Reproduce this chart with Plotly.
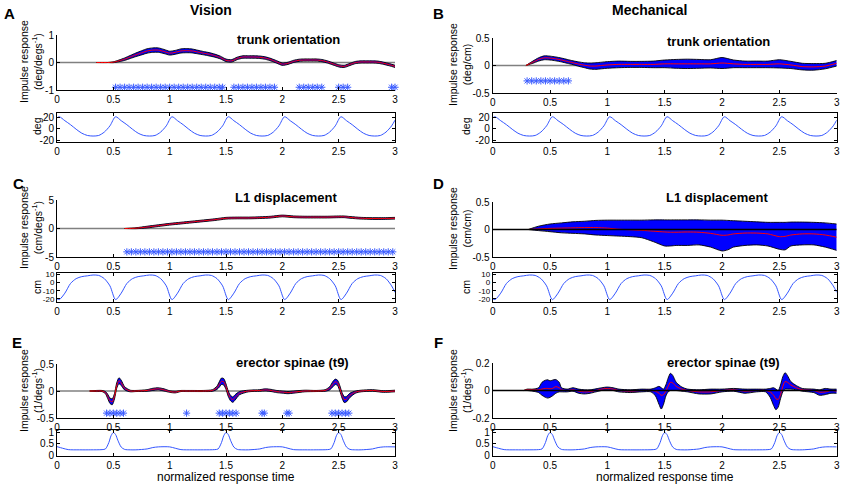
import plotly.graph_objects as go

W, H = 843, 486
FONT = "Liberation Sans, Arial, sans-serif"
BAND = "#0000ff"
STAR = "#3b5cff"
WAVE = "#3355ff"

# ---------------- data ----------------
XT = [0, 0.5, 1, 1.5, 2, 2.5, 3]

# Panel A : Vision, trunk orientation
A_t = [0.35, 0.45, 0.5, 0.55, 0.6, 0.65, 0.7, 0.75, 0.8, 0.85, 0.9, 0.95, 1.0, 1.05, 1.1, 1.15, 1.2, 1.25,
       1.3, 1.35, 1.4, 1.45, 1.5, 1.55, 1.6, 1.65, 1.7, 1.75, 1.8, 1.85, 1.9, 1.95, 2.0, 2.05, 2.1, 2.15,
       2.2, 2.25, 2.3, 2.35, 2.4, 2.45, 2.5, 2.55, 2.6, 2.65, 2.7, 2.75, 2.8, 2.85, 2.9, 2.95, 3.0]
A_mean = [0, 0, 0.01, 0.06, 0.12, 0.2, 0.28, 0.35, 0.42, 0.45, 0.45, 0.4, 0.34, 0.37, 0.42, 0.43, 0.42, 0.38,
          0.34, 0.3, 0.25, 0.18, 0.08, 0.06, 0.15, 0.2, 0.2, 0.2, 0.19, 0.16, 0.1, 0.02, -0.06, -0.03, 0.04, 0.08,
          0.09, 0.09, 0.09, 0.07, 0.02, -0.05, -0.12, -0.14, -0.07, 0.0, 0.02, 0.02, 0.02, 0.01, -0.03, -0.08, -0.14]
A_hw = [0, 0, 0.015, 0.03, 0.045, 0.055, 0.065, 0.075, 0.08, 0.08, 0.08, 0.075, 0.07, 0.07, 0.075, 0.075, 0.07, 0.065,
        0.06, 0.06, 0.055, 0.05, 0.045, 0.045, 0.045, 0.045, 0.045, 0.045, 0.045, 0.045, 0.045, 0.045, 0.045, 0.04, 0.04,
        0.04, 0.04, 0.04, 0.04, 0.04, 0.04, 0.04, 0.04, 0.04, 0.04, 0.04, 0.04, 0.04, 0.04, 0.04, 0.04, 0.04, 0.04]
A_star_t = [0.52, 0.56, 0.60, 0.64, 0.68, 0.72, 0.76, 0.80, 0.84, 0.88, 0.92, 0.96, 1.00, 1.04, 1.08, 1.12, 1.16,
            1.20, 1.24, 1.28, 1.32, 1.36, 1.40, 1.44, 1.47, 1.57, 1.61, 1.65, 1.69, 1.73, 1.77, 1.81, 1.85, 1.89,
            1.93, 2.15, 2.19, 2.23, 2.27, 2.31, 2.35, 2.50, 2.54, 2.58, 2.97, 3.0]
A_star_y = -0.9

# Panel B : Mechanical, trunk orientation
B_t = [0.29, 0.35, 0.4, 0.45, 0.5, 0.55, 0.6, 0.65, 0.7, 0.75, 0.8, 0.85, 0.9, 0.95, 1.0, 1.1, 1.2, 1.3, 1.4,
       1.5, 1.6, 1.7, 1.8, 1.9, 2.0, 2.1, 2.2, 2.3, 2.4, 2.5, 2.6, 2.7, 2.8, 2.9, 3.0]
B_mean = [0, 0.06, 0.11, 0.14, 0.135, 0.12, 0.1, 0.075, 0.05, 0.025, 0.005, -0.01, -0.01, 0.0, 0.01, 0.02, 0.02,
          0.02, 0.02, 0.03, 0.03, 0.03, 0.03, 0.03, 0.045, 0.03, 0.02, 0.02, 0.02, 0.03, 0.01, -0.02, -0.025, -0.01, 0.04]
B_hw = [0, 0.02, 0.03, 0.035, 0.035, 0.035, 0.035, 0.035, 0.035, 0.04, 0.045, 0.055, 0.06, 0.06, 0.06, 0.06, 0.055,
        0.055, 0.06, 0.07, 0.08, 0.085, 0.08, 0.075, 0.1, 0.07, 0.06, 0.06, 0.06, 0.075, 0.065, 0.06, 0.06, 0.05, 0.05]
B_star_t = [0.30, 0.34, 0.38, 0.42, 0.46, 0.50, 0.54, 0.58, 0.62, 0.66]
B_star_y = -0.28

# Panel C : Vision, L1 displacement
C_t = [0.6, 0.7, 0.8, 0.9, 1.0, 1.1, 1.2, 1.3, 1.4, 1.5, 1.6, 1.7, 1.8, 1.9, 2.0, 2.1, 2.2, 2.3, 2.4, 2.5,
       2.55, 2.6, 2.7, 2.8, 2.9, 3.0]
C_mean = [0, 0.05, 0.25, 0.5, 0.75, 0.95, 1.15, 1.35, 1.55, 1.8, 1.85, 1.85, 1.9, 2.0, 2.2, 2.05, 2.0, 2.0, 2.0,
          2.05, 2.05, 1.95, 1.8, 1.75, 1.75, 1.8]
C_hw = [0, 0.08, 0.15, 0.15, 0.15, 0.15, 0.15, 0.15, 0.15, 0.15, 0.15, 0.15, 0.15, 0.15, 0.15, 0.15, 0.15, 0.15,
        0.15, 0.15, 0.15, 0.15, 0.15, 0.15, 0.15, 0.15]
C_star_t = [0.62, 0.66, 0.70, 0.74, 0.78, 0.82, 0.86, 0.90, 0.94, 0.98, 1.02, 1.06, 1.10, 1.14, 1.18, 1.22, 1.26,
            1.30, 1.34, 1.38, 1.42, 1.46, 1.50, 1.54, 1.58, 1.62, 1.66, 1.70, 1.74, 1.78, 1.82, 1.86, 1.90, 1.94,
            1.98, 2.02, 2.06, 2.10, 2.14, 2.18, 2.22, 2.26, 2.30, 2.34, 2.38, 2.42, 2.46, 2.50, 2.54, 2.58, 2.62,
            2.66, 2.70, 2.74, 2.78, 2.82, 2.86, 2.90, 2.94, 2.98]
C_star_y = -4.1

# Panel D : Mechanical, L1 displacement
D_t = [0.31, 0.4, 0.5, 0.6, 0.7, 0.8, 0.9, 1.0, 1.1, 1.2, 1.3, 1.4, 1.5, 1.55, 1.6, 1.7, 1.8, 1.9, 2.0, 2.05,
       2.1, 2.2, 2.3, 2.4, 2.5, 2.55, 2.6, 2.7, 2.8, 2.9, 3.0]
D_mean = [0, 0.01, 0.02, 0.025, 0.03, 0.035, 0.035, 0.025, 0.005, -0.005, -0.015, -0.03, -0.045, -0.05, -0.05,
          -0.045, -0.05, -0.07, -0.105, -0.1, -0.08, -0.065, -0.065, -0.08, -0.13, -0.125, -0.1, -0.08, -0.08, -0.1, -0.14]
D_hi = [0.0, 0.06, 0.1, 0.12, 0.14, 0.15, 0.165, 0.17, 0.17, 0.17, 0.17, 0.175, 0.175, 0.175, 0.175, 0.175, 0.175,
        0.17, 0.17, 0.165, 0.16, 0.15, 0.14, 0.13, 0.13, 0.13, 0.135, 0.135, 0.13, 0.12, 0.1]
D_lo = [0, -0.02, -0.04, -0.06, -0.07, -0.08, -0.1, -0.11, -0.12, -0.13, -0.15, -0.22, -0.3, -0.3, -0.29, -0.29,
        -0.28, -0.32, -0.39, -0.37, -0.32, -0.29, -0.28, -0.3, -0.36, -0.37, -0.3, -0.28, -0.28, -0.32, -0.38]

# Panel E : Vision, erector spinae (t9)
E_t = [0.29, 0.35, 0.4, 0.43, 0.45, 0.47, 0.49, 0.51, 0.53, 0.55, 0.57, 0.6, 0.65, 0.7, 0.8, 0.85, 0.9, 0.95,
       1.0, 1.05, 1.1, 1.15, 1.2, 1.3, 1.38, 1.42, 1.44, 1.46, 1.48, 1.5, 1.52, 1.54, 1.56, 1.58, 1.62, 1.7,
       1.8, 1.85, 1.9, 1.95, 2.0, 2.05, 2.1, 2.2, 2.3, 2.38, 2.42, 2.45, 2.47, 2.49, 2.51, 2.53, 2.55, 2.57,
       2.6, 2.65, 2.7, 2.8, 2.9, 3.0]
E_mean = [0, 0, 0, -0.03, -0.1, -0.18, -0.2, -0.1, 0.1, 0.19, 0.15, 0.05, 0.0, 0.0, 0.01, 0.03, 0.04, 0.02,
          -0.01, -0.02, 0, 0, 0, 0, 0.01, 0.06, 0.12, 0.18, 0.17, 0.08, -0.05, -0.13, -0.16, -0.12, -0.04, 0,
          0.01, 0.02, 0.01, -0.01, -0.02, -0.03, -0.02, 0, 0, 0.01, 0.05, 0.13, 0.17, 0.15, 0.05, -0.08, -0.16,
          -0.15, -0.08, -0.02, 0, 0.01, -0.01, 0.0]
E_hw = [0, 0.01, 0.01, 0.02, 0.04, 0.05, 0.055, 0.05, 0.05, 0.055, 0.05, 0.03, 0.015, 0.01, 0.015, 0.02, 0.02,
        0.02, 0.015, 0.015, 0.01, 0.01, 0.01, 0.01, 0.015, 0.03, 0.05, 0.06, 0.06, 0.05, 0.05, 0.05, 0.05, 0.05,
        0.03, 0.015, 0.015, 0.02, 0.02, 0.02, 0.02, 0.02, 0.02, 0.015, 0.01, 0.015, 0.03, 0.05, 0.05, 0.05, 0.05,
        0.05, 0.055, 0.05, 0.04, 0.02, 0.015, 0.015, 0.015, 0.015]
E_star_t = [0.44, 0.47, 0.50, 0.53, 0.56, 0.59, 1.15, 1.44, 1.47, 1.50, 1.53, 1.56, 1.59, 1.82, 1.84, 2.04,
            2.06, 2.44, 2.47, 2.50, 2.53, 2.56, 2.59]
E_star_y = -0.41

# Panel F : Mechanical, erector spinae (t9)
F_t = [0.27, 0.3, 0.35, 0.4, 0.43, 0.46, 0.48, 0.5, 0.52, 0.55, 0.58, 0.6, 0.65, 0.7, 0.75, 0.8, 0.85, 0.9,
       0.95, 1.0, 1.05, 1.1, 1.2, 1.3, 1.38, 1.42, 1.45, 1.47, 1.49, 1.51, 1.53, 1.55, 1.57, 1.6, 1.65, 1.7,
       1.8, 1.9, 2.0, 2.1, 2.2, 2.3, 2.38, 2.42, 2.45, 2.47, 2.49, 2.51, 2.53, 2.55, 2.57, 2.6, 2.65, 2.7,
       2.8, 2.85, 2.9, 2.95, 3.0]
F_mean = [0, 0.005, 0.005, 0.005, 0.01, 0.015, 0.015, 0.012, 0.015, 0.028, 0.02, 0.005, 0.0, 0.005, -0.005,
          -0.01, -0.008, 0.0, 0.01, 0.015, 0.01, 0.0, -0.005, 0.0, 0.0, -0.005, -0.02, -0.035, -0.03, -0.005,
          0.03, 0.06, 0.055, 0.03, 0.01, 0.0, -0.01, -0.01, 0.0, 0.005, -0.005, 0.0, 0.0, -0.01, -0.035, -0.06,
          -0.065, -0.03, 0.03, 0.065, 0.06, 0.04, 0.02, 0.005, 0.0, -0.012, -0.01, 0.0, -0.005]
F_hi = [0.0, 0.01, 0.01, 0.02, 0.06, 0.075, 0.078, 0.07, 0.075, 0.08, 0.06, 0.02, 0.01, 0.02, 0.01, 0.005, 0.005,
        0.012, 0.02, 0.025, 0.02, 0.01, 0.005, 0.01, 0.01, 0.02, 0.03, 0.02, 0.01, 0.04, 0.09, 0.125, 0.11, 0.06,
        0.025, 0.01, 0.005, 0.01, 0.01, 0.015, 0.01, 0.01, 0.01, 0.015, 0.02, 0.01, 0.0, 0.04, 0.1, 0.13, 0.11,
        0.065, 0.035, 0.015, 0.01, 0.005, 0.015, 0.01, 0.01]
F_lo = [0.0, 0.0, -0.005, -0.015, -0.035, -0.05, -0.055, -0.05, -0.04, -0.02, -0.01, -0.01, -0.01, -0.005, -0.02,
        -0.025, -0.02, -0.01, 0.0, 0.005, 0.0, -0.01, -0.015, -0.01, -0.01, -0.04, -0.1, -0.135, -0.1, -0.04,
        -0.01, 0.0, 0.0, 0.0, -0.005, -0.01, -0.025, -0.025, -0.01, -0.005, -0.02, -0.01, -0.01, -0.05, -0.11,
        -0.14, -0.12, -0.06, -0.01, 0.01, 0.01, 0.01, 0.005, -0.005, -0.015, -0.035, -0.03, -0.02, -0.02]

# Stimulus waveforms (bottom strips)
W1_t = [0, 0.02, 0.07, 0.12, 0.17, 0.22, 0.27, 0.32, 0.37, 0.42, 0.47, 0.52, 0.57, 0.62, 0.67, 0.72, 0.77,
        0.82, 0.87, 0.92, 0.97, 1.02, 1.07, 1.12, 1.17, 1.22, 1.27, 1.32, 1.37, 1.42, 1.47, 1.52, 1.57, 1.62,
        1.67, 1.72, 1.77, 1.82, 1.87, 1.92, 1.97, 2.02, 2.07, 2.12, 2.17, 2.22, 2.27, 2.32, 2.37, 2.42, 2.47,
        2.52, 2.57, 2.62, 2.67, 2.72, 2.77, 2.82, 2.87, 2.92, 2.97, 3.0]
deg_wave = [19,
            21, 14, 7, -1, -8, -12, -13, -12, -6, 5,
            21, 14, 7, -1, -8, -12, -13, -12, -6, 5,
            21, 14, 7, -1, -8, -12, -13, -12, -6, 5,
            21, 14, 7, -1, -8, -12, -13, -12, -6, 5,
            21, 14, 7, -1, -8, -12, -13, -12, -6, 5,
            21, 14, 7, -1, -8, -12, -13, -12, -6, 5,
            15]
cm_wave = [-20,
           -21, -13, -1, 5, 7.5, 8.5, 9.5, 9, 5, -4,
           -21, -13, -1, 5, 7.5, 8.5, 9.5, 9, 5, -4,
           -21, -13, -1, 5, 7.5, 8.5, 9.5, 9, 5, -4,
           -21, -13, -1, 5, 7.5, 8.5, 9.5, 9, 5, -4,
           -21, -13, -1, 5, 7.5, 8.5, 9.5, 9, 5, -4,
           -21, -13, -1, 5, 7.5, 8.5, 9.5, 9, 5, -4,
           -12]
W3_t = [0, 0.05, 0.1, 0.2, 0.3, 0.4, 0.43, 0.46, 0.48, 0.5,
        0.52, 0.54, 0.57, 0.6, 0.65, 0.7, 0.8, 0.85, 0.9, 1.0,
        1.05, 1.1, 1.2, 1.3, 1.4, 1.43, 1.46, 1.48, 1.5,
        1.52, 1.54, 1.57, 1.6, 1.65, 1.7, 1.8, 1.85, 1.9, 2.0,
        2.05, 2.1, 2.2, 2.3, 2.4, 2.43, 2.46, 2.48, 2.5,
        2.52, 2.54, 2.57, 2.6, 2.65, 2.7, 2.8, 2.85, 2.9, 3.0]
emg_wave = [0.37, 0.3, 0.24, 0.23, 0.23, 0.24, 0.27, 0.55, 0.85, 0.99,
            0.9, 0.65, 0.35, 0.25, 0.23, 0.23, 0.27, 0.33, 0.36, 0.36,
            0.3, 0.24, 0.23, 0.23, 0.24, 0.27, 0.55, 0.85, 0.99,
            0.9, 0.65, 0.35, 0.25, 0.23, 0.23, 0.27, 0.33, 0.36, 0.36,
            0.3, 0.24, 0.23, 0.23, 0.24, 0.27, 0.55, 0.85, 0.99,
            0.9, 0.65, 0.35, 0.25, 0.23, 0.23, 0.27, 0.33, 0.36, 0.36]

# ---------------- figure ----------------
fig = go.Figure()


def ax_names(n):
    return ("x" if n == 1 else f"x{n}"), ("y" if n == 1 else f"y{n}")


def add_band(n, t, lo, hi, mean):
    xa, ya = ax_names(n)
    edge = dict(color="black", width=0.9, shape="spline", smoothing=0.7)
    fig.add_trace(go.Scatter(x=t, y=lo, mode="lines", line=edge, xaxis=xa, yaxis=ya,
                             showlegend=False, hoverinfo="skip"))
    fig.add_trace(go.Scatter(x=t, y=hi, mode="lines", line=edge, fill="tonexty", fillcolor=BAND,
                             xaxis=xa, yaxis=ya, showlegend=False, hoverinfo="skip"))
    fig.add_trace(go.Scatter(x=t, y=mean, mode="lines",
                             line=dict(color="red", width=1, shape="spline", smoothing=0.7),
                             xaxis=xa, yaxis=ya, showlegend=False, hoverinfo="skip"))


def add_stars(n, ts, yv):
    xa, ya = ax_names(n)
    fig.add_trace(go.Scatter(x=ts, y=[yv] * len(ts), mode="markers",
                             marker=dict(symbol="asterisk-open", size=6, color=STAR,
                                         line=dict(color=STAR, width=1)),
                             xaxis=xa, yaxis=ya, showlegend=False, hoverinfo="skip", cliponaxis=False))


def add_wave(n, t, v):
    xa, ya = ax_names(n)
    fig.add_trace(go.Scatter(x=t, y=v, mode="lines",
                             line=dict(color=WAVE, width=1, shape="spline", smoothing=0.8),
                             xaxis=xa, yaxis=ya, showlegend=False, hoverinfo="skip"))


add_band(1, A_t, [m - h for m, h in zip(A_mean, A_hw)], [m + h for m, h in zip(A_mean, A_hw)], A_mean)
add_stars(1, A_star_t, A_star_y)
add_wave(2, W1_t, deg_wave)
add_band(3, B_t, [m - h for m, h in zip(B_mean, B_hw)], [m + h for m, h in zip(B_mean, B_hw)], B_mean)
add_stars(3, B_star_t, B_star_y)
add_wave(4, W1_t, deg_wave)
add_band(5, C_t, [m - h for m, h in zip(C_mean, C_hw)], [m + h for m, h in zip(C_mean, C_hw)], C_mean)
add_stars(5, C_star_t, C_star_y)
add_wave(6, W1_t, cm_wave)
add_band(7, D_t, D_lo, D_hi, D_mean)
add_wave(8, W1_t, cm_wave)
add_band(9, E_t, [m - h for m, h in zip(E_mean, E_hw)], [m + h for m, h in zip(E_mean, E_hw)], E_mean)
add_stars(9, E_star_t, E_star_y)
add_wave(10, W3_t, emg_wave)
add_band(11, F_t, F_lo, F_hi, F_mean)
add_wave(12, W3_t, emg_wave)


def xd(a, b):
    return [a / W, b / W]


def yd(top, bottom):
    return [1 - bottom / H, 1 - top / H]


LX = xd(57, 395)
RX = xd(492.7, 836.7)


def lab(v):
    return f"{v:g}"


# (axis number, x domain, y domain, y range, y ticks, is strip, y tick font size)
axes = [
    (1, LX, yd(35, 90), [-1, 1], [-1, 0, 1], False, 10),
    (2, LX, yd(113, 142), [-23.5, 27.6], [-20, 0, 20], True, 10),
    (3, RX, yd(38, 93), [-0.5, 0.5], [-0.5, 0, 0.5], False, 10),
    (4, RX, yd(113, 142), [-23.5, 27.6], [-20, 0, 20], True, 10),
    (5, LX, yd(200, 257), [-5, 5], [-5, 0, 5], False, 10),
    (6, LX, yd(273, 302), [-24, 12], [-20, -10, 0, 10], True, 8),
    (7, RX, yd(202, 257), [-0.5, 0.5], [-0.5, 0, 0.5], False, 10),
    (8, RX, yd(273, 302), [-24, 12], [-20, -10, 0, 10], True, 8),
    (9, LX, yd(364, 418), [-0.5, 0.5], [-0.5, 0, 0.5], False, 10),
    (10, LX, yd(430, 456), [-0.04, 1.1], [0, 0.5, 1], True, 10),
    (11, RX, yd(363, 418), [-0.2, 0.2], [-0.2, 0, 0.2], False, 10),
    (12, RX, yd(430, 456), [-0.04, 1.1], [0, 0.5, 1], True, 10),
]

layout = dict(
    width=W, height=H, autosize=False,
    margin=dict(l=0, r=0, t=0, b=0, pad=0, autoexpand=False),
    paper_bgcolor="white", plot_bgcolor="white", showlegend=False,
    font=dict(family=FONT, size=10, color="black"),
)

for n, xdom, ydom, yr, yt, strip, yfs in axes:
    xk = "xaxis" if n == 1 else f"xaxis{n}"
    yk = "yaxis" if n == 1 else f"yaxis{n}"
    xa, ya = ax_names(n)
    common = dict(showline=True, linecolor="black", linewidth=1, ticks="inside", ticklen=3,
                  tickcolor="black", showgrid=False, zeroline=False,
                  mirror="ticks" if strip else False, fixedrange=True, automargin=False,
                  ticklabeloverflow="allow")
    layout[xk] = dict(domain=xdom, anchor=ya, range=[0, 3], tickvals=XT, ticktext=[lab(v) for v in XT],
                      tickfont=dict(family=FONT, size=10, color="black"), **common)
    layout[yk] = dict(domain=ydom, anchor=xa, range=yr, tickvals=yt, ticktext=[lab(v) for v in yt],
                      tickfont=dict(family=FONT, size=yfs, color="black"), **common)

# zero reference lines on the impulse-response axes
shapes = []
for n, colr, layer in [(1, "#808080", "below"), (3, "#808080", "below"), (5, "#808080", "below"),
                       (7, "black", "above"), (9, "#808080", "below"), (11, "black", "above")]:
    xa, ya = ax_names(n)
    shapes.append(dict(type="line", xref=xa, yref=ya, x0=0, x1=3, y0=0, y1=0,
                       line=dict(color=colr, width=1.3), layer=layer))
layout["shapes"] = shapes


def ann(text, px, py, size, bold=False, angle=0, xanchor="center"):
    return dict(text=f"<b>{text}</b>" if bold else text, x=px / W, y=1 - py / H, xref="paper", yref="paper",
                showarrow=False, xanchor=xanchor, yanchor="middle", textangle=angle,
                font=dict(family=FONT, size=size, color="black"))


annotations = [
    ann("Vision", 211, 10, 14, True),
    ann("Mechanical", 649, 10, 14, True),
    ann("A", 9, 14, 15, True), ann("B", 438, 14, 15, True),
    ann("C", 18, 183, 15, True), ann("D", 438, 183, 15, True),
    ann("E", 17, 342, 15, True), ann("F", 438, 342, 15, True),
    ann("trunk orientation", 288, 40, 13, True),
    ann("trunk orientation", 718, 42, 13, True),
    ann("L1 displacement", 286, 197, 13, True),
    ann("L1 displacement", 717, 197, 13, True),
    ann("erector spinae (t9)", 292, 362, 13, True),
    ann("erector spinae (t9)", 723, 362, 13, True),
    ann("Impulse response<br>(deg/degs<sup>-1</sup>)", 31, 62, 10.5, angle=-90),
    ann("Impulse response<br>(deg/cm)", 460, 65, 10.5, angle=-90),
    ann("Impulse response<br>(cm/degs<sup>-1</sup>)", 31, 228, 10.5, angle=-90),
    ann("Impulse response<br>(cm/cm)", 460, 229, 10.5, angle=-90),
    ann("Impulse response<br>(1/degs<sup>-1</sup>)", 31, 391, 10.5, angle=-90),
    ann("Impulse response<br>(1/degs<sup>-1</sup>)", 460, 391, 10.5, angle=-90),
    ann("deg", 37, 126, 10.5, angle=-90),
    ann("deg", 466, 126, 10.5, angle=-90),
    ann("cm", 37, 287, 10.5, angle=-90),
    ann("cm", 466, 287, 10.5, angle=-90),
    ann("normalized response time", 226, 477, 12),
    ann("normalized response time", 665, 477, 12),
]
layout["annotations"] = annotations

fig.update_layout(**layout)
fig.write_html("out.html",
               config={"displayModeBar": False, "staticPlot": True},
               post_script="document.body.style.margin='0';document.body.style.padding='0';"
                           "document.body.style.overflow='hidden';")
